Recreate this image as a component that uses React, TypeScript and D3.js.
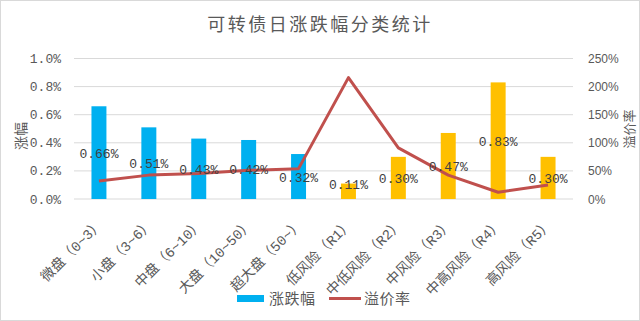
import React from "react";
import * as d3 from "d3";

const categories = [
  "微盘（0~3）",
  "小盘（3~6）",
  "中盘（6~10）",
  "大盘（10~50）",
  "超大盘（50~）",
  "低风险（R1）",
  "中低风险（R2）",
  "中风险（R3）",
  "中高风险（R4）",
  "高风险（R5）",
];
const changeValues = [0.0066, 0.0051, 0.0043, 0.0042, 0.0032, 0.0011, 0.003, 0.0047, 0.0083, 0.003];
const premiumValues = [0.32, 0.425, 0.455, 0.51, 0.54, 2.16, 0.91, 0.425, 0.12, 0.25];
const barColors = ["#00B0F0", "#00B0F0", "#00B0F0", "#00B0F0", "#00B0F0", "#FFC000", "#FFC000", "#FFC000", "#FFC000", "#FFC000"];
const leftTicks = [0, 0.002, 0.004, 0.006, 0.008, 0.01];
const rightTicks = [0, 0.5, 1, 1.5, 2, 2.5];
const title = "可转债日涨跌幅分类统计";
const seriesNames = ["涨跌幅", "溢价率"];

const W = 640;
const H = 321;
const plotLeft = 74;
const plotRight = 573;
const plotTop = 58.5;
const plotBottom = 199;

const numFont = "'Liberation Mono', 'Noto Sans CJK SC', monospace";
const cjkFont = "'Noto Sans CJK SC', sans-serif";

export default function App() {
  const x = d3.scaleBand<string>().domain(categories).range([plotLeft, plotRight]).paddingInner(0).paddingOuter(0);
  const yL = d3.scaleLinear().domain([0, 0.01]).range([plotBottom, plotTop]);
  const yR = d3.scaleLinear().domain([0, 2.5]).range([plotBottom, plotTop]);
  const bw = x.bandwidth() * 0.3;
  const cx = (c: string) => (x(c) as number) + x.bandwidth() / 2;

  const line = d3
    .line<number>()
    .x((_, i) => cx(categories[i]))
    .y((d) => yR(d));

  return (
    <svg width={W} height={H} style={{ position: "absolute", left: 0, top: 0, background: "#fff" }}>
      <rect x={0.5} y={0.5} width={W - 1} height={H - 1} fill="#fff" stroke="#d9d9d9" />
      <text x={320} y={31} textAnchor="middle" fontFamily={cjkFont} fontSize={18} letterSpacing={2.5} fill="#595959">
        {title}
      </text>
      {leftTicks.map((t, i) => (
        <line key={"g" + i} x1={plotLeft} x2={plotRight} y1={yL(t)} y2={yL(t)} stroke="#d9d9d9" strokeWidth={1} />
      ))}
      {leftTicks.map((t, i) => (
        <text key={"lt" + i} x={61} y={yL(t) + 4.5} textAnchor="end" fontFamily={numFont} fontSize={13} fill="#595959">
          {d3.format(".1%")(t)}
        </text>
      ))}
      {rightTicks.map((t, i) => (
        <text key={"rt" + i} x={588} y={yR(t) + 4.5} textAnchor="start" fontFamily="'Liberation Sans', sans-serif" fontSize={12} fill="#595959">
          {d3.format(".0%")(t)}
        </text>
      ))}
      <text transform={`translate(26,136) rotate(-90)`} textAnchor="middle" fontFamily={cjkFont} fontSize={14} fill="#595959">
        涨幅
      </text>
      <text transform={`translate(634,129) rotate(-90)`} textAnchor="middle" fontFamily={cjkFont} fontSize={13} fill="#595959">
        溢价率
      </text>
      {categories.map((c, i) => (
        <rect key={"b" + i} x={cx(c) - bw / 2} y={yL(changeValues[i])} width={bw} height={plotBottom - yL(changeValues[i])} fill={barColors[i]} />
      ))}
      <path d={line(premiumValues) || ""} fill="none" stroke="#C0504D" strokeWidth={3} strokeLinejoin="round" />
      {categories.map((c, i) => {
        const mid = (yL(changeValues[i]) + plotBottom) / 2;
        const yy = Math.min(mid, plotBottom - 15);
        return (
          <text key={"dl" + i} x={cx(c)} y={yy + 5} textAnchor="middle" fontFamily={numFont} fontSize={13} fill="#404040">
            {d3.format(".2%")(changeValues[i])}
          </text>
        );
      })}
      {categories.map((c, i) => (
        <text
          key={"xl" + i}
          transform={`translate(${cx(c) + 5},${225}) rotate(-45)`}
          textAnchor="end"
          fontFamily={numFont}
          fontSize={14}
          fill="#595959"
        >
          {c}
        </text>
      ))}
      <rect x={237} y={295} width={27} height={7} fill="#00B0F0" />
      <text x={269} y={304} fontFamily={cjkFont} fontSize={15} letterSpacing={0.5} fill="#595959">
        {seriesNames[0]}
      </text>
      <line x1={329} x2={361} y1={298.5} y2={298.5} stroke="#C0504D" strokeWidth={3} />
      <text x={364} y={304} fontFamily={cjkFont} fontSize={15} letterSpacing={0.5} fill="#595959">
        {seriesNames[1]}
      </text>
    </svg>
  );
}
